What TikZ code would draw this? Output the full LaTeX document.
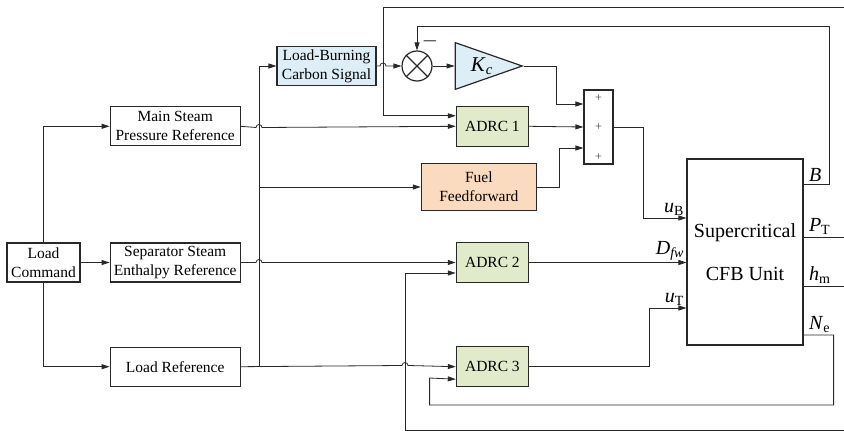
\documentclass[tikz,border=0pt]{standalone}
\usepackage{fontspec}
\setmainfont{Liberation Serif}
\usetikzlibrary{positioning, arrows.meta, shapes.geometric, calc}

\definecolor{adrcgreen}{RGB}{226,234,204}
\definecolor{carbonblue}{RGB}{221,238,246}
\definecolor{fuelorange}{RGB}{251,219,192}
\definecolor{linegray}{RGB}{40,40,40}

\begin{document}
\begin{tikzpicture}[
		x=1pt, y=-1pt,
		% Define styles for the blocks
		block/.style={
			rectangle, draw=linegray, line width=1.2pt, align=center, inner sep=0pt,
			font=\fontsize{15.5}{19}\selectfont
		},
		refbox/.style={block, minimum width=130pt, minimum height=39pt},
		adrcbox/.style={block, fill=adrcgreen, minimum width=72pt, minimum height=40pt},
		wire/.style={line width=0.8pt, draw=linegray},
		sig/.style={wire, ->, >={Triangle[length=8pt,width=5pt]}},
		lbl/.style={font=\fontsize{20}{20}\selectfont, inner sep=2pt}
		]
		
		\useasboundingbox (0,0) rectangle (844,431);
		
		% Reference generation
		\node[block, minimum width=73pt, minimum height=39pt] (cmd) at (43.5,262.5) {Load\\Command};
		\node[refbox, right=29pt of cmd] (sep) {Separator Steam\\Enthalpy Reference};
		\node[refbox, above=96pt of sep] (msp) {Main Steam\\Pressure Reference};
		\node[refbox, below=64pt of sep] (lref) {Load Reference};
		\node[block, fill=carbonblue, minimum width=99pt, minimum height=39pt] (lbc) at (326.5,66) {Load-Burning\\Carbon Signal};
		
		% Controllers
		\node[adrcbox, right=215pt of msp] (adrc1) {ADRC 1};
		\node[adrcbox, right=215pt of sep] (adrc2) {ADRC 2};
		\node[adrcbox, right=215pt of lref] (adrc3) {ADRC 3};
		\node[block, fill=fuelorange, minimum width=115pt, minimum height=47pt, below=16pt of adrc1, xshift=-13.5pt] (fuel) {Fuel\\Feedforward};
		\node[circle, draw=linegray, line width=1.2pt, minimum size=30pt, inner sep=0pt] (sumc) at (417,66) {};
		\draw[line width=1.2pt, draw=linegray] (sumc.north west) -- (sumc.south east) (sumc.north east) -- (sumc.south west);
		\node[isosceles triangle, isosceles triangle stretches, shape border rotate=0, draw=linegray, line width=1.2pt, fill=carbonblue,
			minimum width=46pt, minimum height=67pt, inner sep=0pt, right=22pt of sumc,
			font=\fontsize{21}{21}\selectfont] (kc) {\hspace*{14pt}\textit{K}\textsubscript{\textit{c}}};
		\node[rectangle, draw=linegray, line width=1.2pt, minimum width=29pt, minimum height=74pt] (sum) at (598.5,127) {};
		\foreach \dy in {-29,0,30}
			\node[font=\fontsize{12}{12}\selectfont, text=black!75] at ($(sum.center)+(0,\dy)$) {+};
		
		% Plant
		\node[block, minimum width=116pt, minimum height=186pt, font=\fontsize{20}{43}\selectfont] (cfb) at (745,252) {Supercritical\\CFB Unit};
		
		% Free ends at the right border
		\coordinate (ptout) at (844,237);
		\coordinate (hmout) at (844,286);
		\coordinate (topfb) at (844,7);
		\coordinate (botfb) at (844,430);
		\coordinate (bus) at (259,365.5);
		
		% Reference paths
		\draw[sig] (cmd.north) |- (msp.west);
		\draw[sig] (cmd.east) -- (sep.west);
		\draw[sig] (cmd.south) |- (lref.west);
		\draw[sig] (msp.east) -- (256,127.5) arc[start angle=180, end angle=360, radius=3] -- (adrc1.west);
		\draw[sig] (sep.east) -- (256,262.5) arc[start angle=180, end angle=360, radius=3] -- (adrc2.west);
		\draw[sig] (lref.east) -- (402,365.5) arc[start angle=180, end angle=360, radius=3] -- (adrc3.west);
		\draw[sig] (bus) |- (lbc.west);
		\draw[sig] (bus |- fuel.west) -- (fuel.west);
		
		% Carbon signal branch
		\draw[sig] (lbc.east) -- (380,66) arc[start angle=180, end angle=360, radius=3] -- (sumc.west);
		\draw[sig] (sumc.east) -- (kc.west);
		\draw[sig] (kc.apex) -- ++(33,0) |- ($(sum.west)+(0,-23)$);
		\draw[sig] (adrc1.east) -- (sum.west);
		\draw[sig] (fuel.east) -- ++(22,0) |- ($(sum.west)+(0,21)$);
		
		% Plant inputs
		\draw[sig] (sum.east) -- ++(30,0) |- ($(cfb.west)+(0,-34)$) node[lbl, above left] {\textit{u}\textsubscript{B}};
		\draw[sig] (adrc2.east) -- (adrc2.east -| cfb.west) node[lbl, above left] {\textit{D}\textsubscript{\textit{fw}}};
		\draw[sig] (adrc3.east) -- ++(120,0) |- ($(cfb.west)+(0,56)$) node[lbl, above left] {\textit{u}\textsubscript{T}};
		
		% Plant outputs and feedback
		\draw[sig] ($(cfb.east)+(0,-68)$) node[lbl, above right, xshift=3pt] {\textit{B}} -- ++(26,0) -- ++(0,-158) -| (sumc.north);
		\node[lbl] at ($(sumc.north)+(13,-9)$) {$-$};
		\draw[wire] ($(cfb.east)+(0,-15)$) node[lbl, above right, xshift=3pt] {\textit{P}\textsubscript{T}} -- (ptout);
		\draw[wire] ($(cfb.east)+(0,34)$) node[lbl, above right, xshift=3pt] {\textit{h}\textsubscript{m}} -- (hmout);
		\draw[sig] ($(cfb.east)+(0,83)$) node[lbl, above right, xshift=3pt] {\textit{N}\textsubscript{e}} -- ++(30,0) -- ++(0,70) -| ++(-404,-27) -- ($(adrc3.west)+(0,12.5)$);
		\draw[sig] (topfb) -- (383,7) |- ($(adrc1.west)+(0,-10.5)$);
		\draw[sig] (botfb) -- (405,430) |- ($(adrc2.west)+(0,10.5)$);
		
	\end{tikzpicture}
\end{document}
